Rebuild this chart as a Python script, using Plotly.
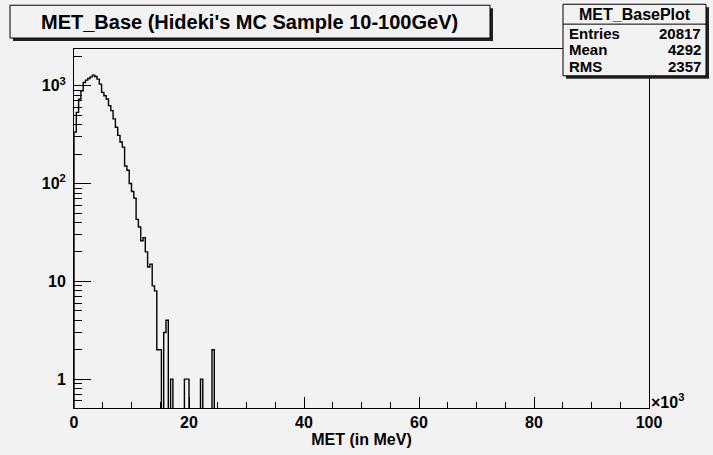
import numpy as np
import plotly.graph_objects as go

# ---------------- data ----------------
bin_width = 0.4          # in units of 10^3 MeV
n_bins = 250             # 0 .. 100 (x10^3)
counts_read = [336, 535, 730, 890, 1080, 1143, 1186, 1234, 1284, 1243,
               1170, 1040, 855, 791, 733, 627, 557, 459, 377, 311,
               266, 236, 151, 137, 100, 83, 71, 43, 36, 26,
               28, 20, 14, 15, 9, 8, 2, 2, 0, 3,
               4, 0, 1, 0, 0, 0, 0, 0, 1, 1,
               0, 0, 0, 0, 0, 1, 0, 0, 0, 0,
               2]
counts = counts_read + [0] * (n_bins - len(counts_read))

y_tickvals = [1, 10, 100, 1000]
y_ticktext = ["1", "10", "10<sup>2</sup>", "10<sup>3</sup>"]
x_tickvals = [0, 20, 40, 60, 80, 100]

title_text = "MET_Base (Hideki's MC Sample 10-100GeV)"
stats_name = "MET_BasePlot"
stats_rows = [("Entries", "20817"), ("Mean", "4292"), ("RMS", "2357")]
x_title = "MET (in MeV)"

# ---------------- geometry ----------------
W, H = 713, 455
L, R, T, B = 74, 649, 49, 410
BG = "#f2f2f2"
FONT = "Liberation Sans"


def px(x):
    return (x - L) / (R - L)


def py(y):
    return (B - y) / (B - T)


edges = np.arange(n_bins + 1) * bin_width
floor = 1e-3
yv = np.array([c if c > 0 else floor for c in counts], dtype=float)
xs = np.concatenate([[edges[0]], edges[:-1], [edges[-1]]])
ys = np.concatenate([[floor], yv, [yv[-1]]])

fig = go.Figure()
fig.add_trace(go.Scatter(x=xs, y=ys, mode="lines", line=dict(color="black", width=1.4, shape="hv"),
                         hoverinfo="skip", showlegend=False))

minor_vals = [m * 10 ** d for d in range(-1, 4) for m in range(2, 10)]

fig.update_layout(
    width=W, height=H,
    margin=dict(l=L, r=W - R, t=T, b=H - B),
    paper_bgcolor=BG, plot_bgcolor=BG,
    font=dict(family=FONT, size=14, color="black"),
    showlegend=False,
)
fig.update_xaxes(
    range=[0, 100], tickvals=x_tickvals, ticks="inside", ticklen=11, tickwidth=1, tickcolor="black",
    showline=True, linecolor="black", linewidth=1, mirror=True, showgrid=False, zeroline=False,
    tickfont=dict(family=FONT, size=16, weight="bold"),
    minor=dict(dtick=5, ticks="inside", ticklen=6, tickcolor="black", showgrid=False),
    title=dict(text=x_title, font=dict(family=FONT, size=16, weight="bold"), standoff=1),
)
fig.update_yaxes(
    type="log", range=[-0.295, 3.376], tickvals=y_tickvals, ticktext=y_ticktext,
    ticks="inside", ticklen=17, tickwidth=1, tickcolor="black",
    showline=True, linecolor="black", linewidth=1, mirror=True, showgrid=False, zeroline=False,
    tickfont=dict(family=FONT, size=16, weight="bold"), ticklabelstandoff=4,
    minor=dict(tickvals=minor_vals, ticks="inside", ticklen=8, tickcolor="black", showgrid=False),
)

shapes = []
annotations = []

# title box with shadow
tx0, ty0, tx1, ty1 = 10, 5, 490, 38
shapes.append(dict(type="rect", xref="paper", yref="paper", x0=px(tx0 + 3), x1=px(tx1 + 3),
                   y0=py(ty1 + 3), y1=py(ty0 + 3), fillcolor="#222222", line=dict(width=0)))
shapes.append(dict(type="rect", xref="paper", yref="paper", x0=px(tx0), x1=px(tx1),
                   y0=py(ty1), y1=py(ty0), fillcolor=BG, line=dict(color="black", width=1)))
annotations.append(dict(xref="paper", yref="paper", x=px((tx0 + tx1) / 2 - 1), y=py((ty0 + ty1) / 2),
                        text=title_text, showarrow=False, xanchor="center", yanchor="middle",
                        font=dict(family=FONT, size=20, weight="bold")))

# stats box with shadow
sx0, sy0, sx1, sy1 = 563, 4, 706, 76
shapes.append(dict(type="rect", xref="paper", yref="paper", x0=px(sx0 + 3), x1=px(sx1 + 3),
                   y0=py(sy1 + 3), y1=py(sy0 + 3), fillcolor="#222222", line=dict(width=0)))
shapes.append(dict(type="rect", xref="paper", yref="paper", x0=px(sx0), x1=px(sx1),
                   y0=py(sy1), y1=py(sy0), fillcolor=BG, line=dict(color="black", width=1)))
shapes.append(dict(type="line", xref="paper", yref="paper", x0=px(sx0), x1=px(sx1),
                   y0=py(24), y1=py(24), line=dict(color="black", width=1)))
annotations.append(dict(xref="paper", yref="paper", x=px((sx0 + sx1) / 2), y=py(14),
                        text=stats_name, showarrow=False, xanchor="center", yanchor="middle",
                        font=dict(family=FONT, size=16, weight="bold")))
for i, (k, v) in enumerate(stats_rows):
    yy = 33 + 17 * i
    annotations.append(dict(xref="paper", yref="paper", x=px(sx0 + 4), y=py(yy), text=k,
                            showarrow=False, xanchor="left", yanchor="middle",
                            font=dict(family=FONT, size=15, weight="bold")))
    annotations.append(dict(xref="paper", yref="paper", x=px(sx1 - 3), y=py(yy), text=v,
                            showarrow=False, xanchor="right", yanchor="middle",
                            font=dict(family=FONT, size=15, weight="bold")))

# x10^3 exponent label
annotations.append(dict(xref="paper", yref="paper", x=px(649), y=py(403), text="×10<sup>3</sup>",
                        showarrow=False, xanchor="left", yanchor="middle",
                        font=dict(family=FONT, size=16, weight="bold")))

fig.update_layout(shapes=shapes, annotations=annotations)
fig.write_html("out.html")
